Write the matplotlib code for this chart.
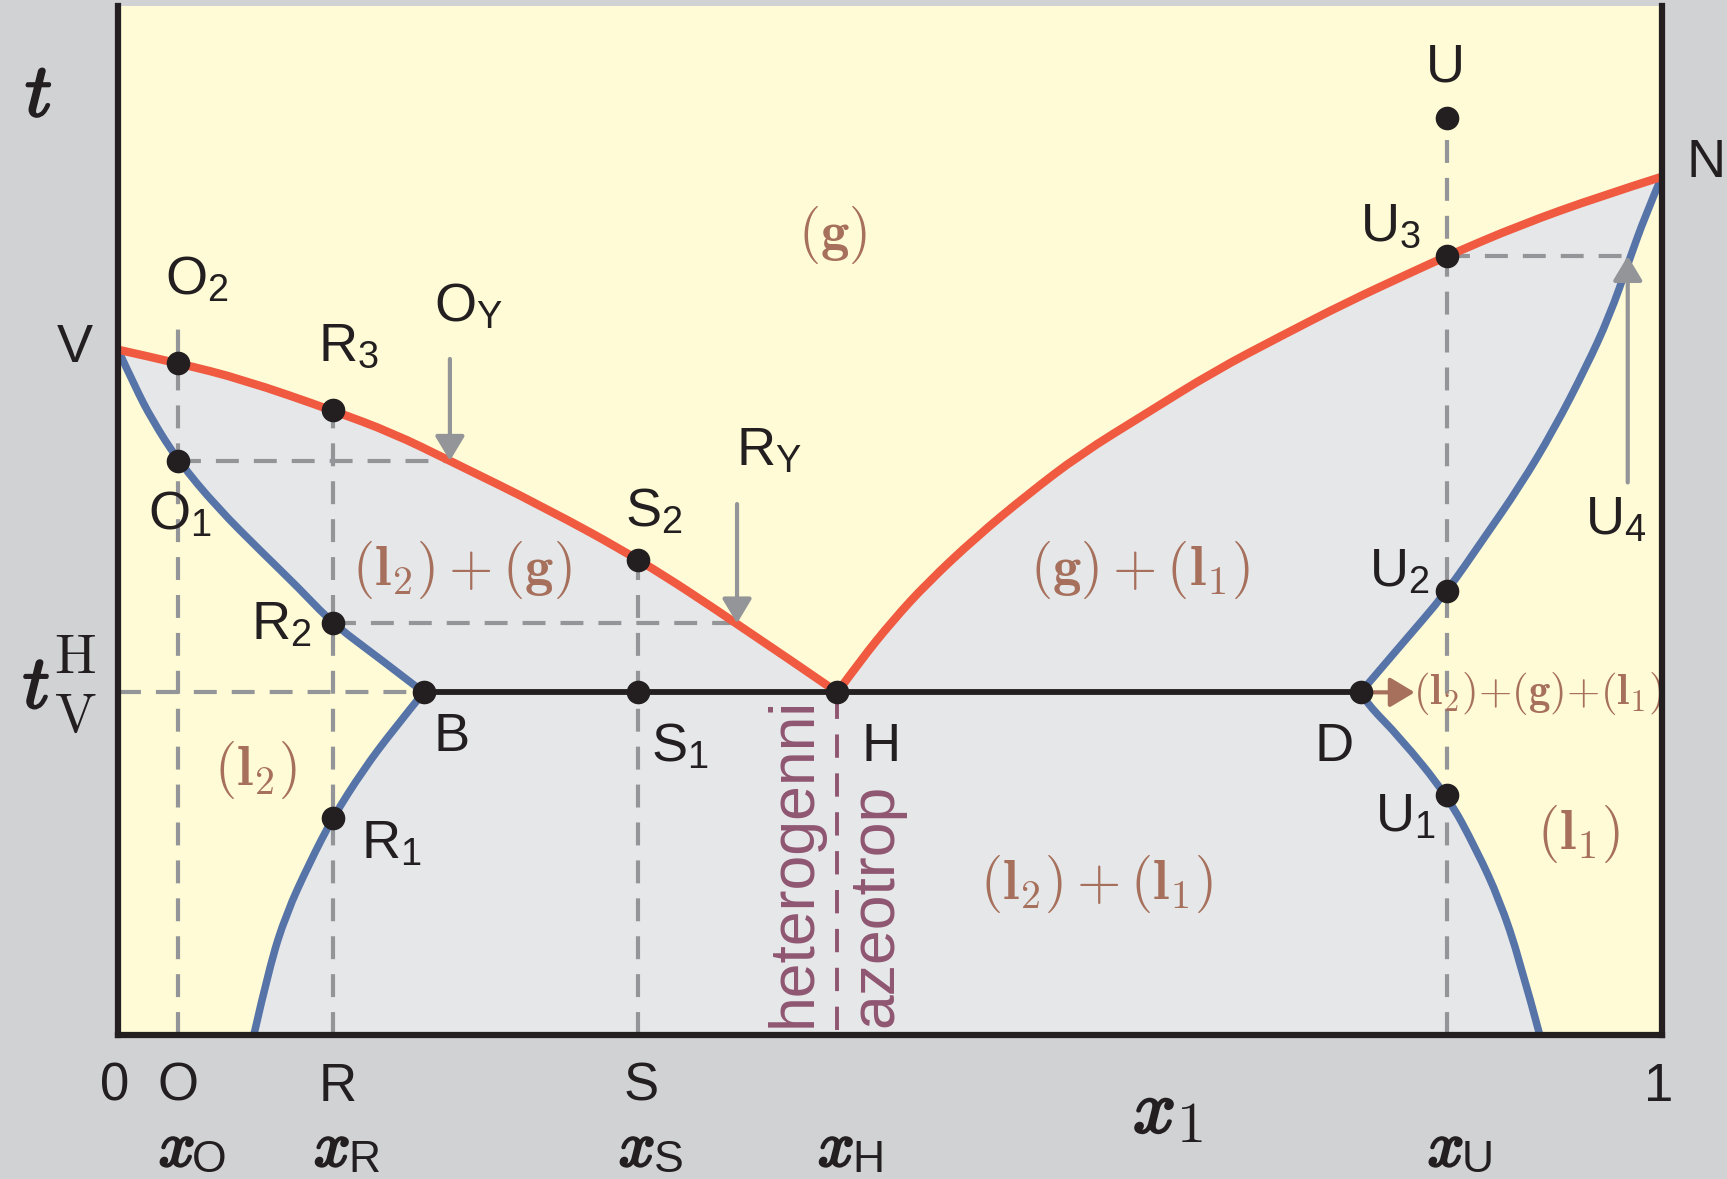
import matplotlib
matplotlib.use("Agg")
import matplotlib.pyplot as plt
import numpy as np
from matplotlib.path import Path
from matplotlib.patches import PathPatch
from matplotlib import patheffects

plt.rcParams['font.family'] = ['Liberation Sans', 'DejaVu Sans']
plt.rcParams['mathtext.fontset'] = 'custom'
plt.rcParams['mathtext.rm'] = 'Liberation Sans'
plt.rcParams['mathtext.it'] = 'Liberation Serif:italic:bold'

# ---- phase boundaries (x1 mole fraction, scaled temperature 0..1) ----
t_V, t_N, t_H = 0.666, 0.834, 0.333
x_B, x_H, x_D = 0.198, 0.466, 0.805

# dew curve, l2 side: V -> H
dew2_x = [0.0, 0.039, 0.081, 0.139, 0.178, 0.215, 0.276, 0.338, 0.401, 0.466]
dew2_t = [0.666, 0.653, 0.637, 0.607, 0.585, 0.558, 0.513, 0.462, 0.400, 0.333]
# dew curve, l1 side: H -> N
dew1_x = [0.466, 0.481, 0.502, 0.524, 0.556, 0.589, 0.623, 0.666, 0.710, 0.753,
          0.796, 0.839, 0.861, 0.908, 0.960, 1.0]
dew1_t = [0.333, 0.364, 0.403, 0.439, 0.484, 0.525, 0.564, 0.604, 0.645, 0.679,
          0.712, 0.742, 0.757, 0.787, 0.815, 0.834]
# bubble curve l2: V -> B
bub2_x = [0.0, 0.011, 0.022, 0.039, 0.064, 0.094, 0.116, 0.139, 0.165, 0.198]
bub2_t = [0.666, 0.630, 0.598, 0.558, 0.513, 0.468, 0.436, 0.400, 0.371, 0.333]
# solubility curve l2: B -> bottom
sol2_x = [0.198, 0.178, 0.159, 0.139, 0.124, 0.109, 0.098, 0.088]
sol2_t = [0.333, 0.296, 0.258, 0.211, 0.167, 0.118, 0.066, 0.0]
# bubble curve l1: D -> N
bub1_x = [0.805, 0.830, 0.861, 0.884, 0.908, 0.930, 0.951, 0.966, 0.979, 0.989, 1.0]
bub1_t = [0.333, 0.377, 0.431, 0.481, 0.533, 0.588, 0.649, 0.698, 0.753, 0.795, 0.834]
# solubility curve l1: D -> bottom
sol1_x = [0.805, 0.809, 0.830, 0.861, 0.880, 0.895, 0.908, 0.921]
sol1_t = [0.333, 0.322, 0.290, 0.233, 0.180, 0.131, 0.073, 0.0]

# compositions of the worked examples
x_O, x_R, x_S, x_U = 0.039, 0.1395, 0.337, 0.861
x_OY, x_RY, x_U4 = 0.215, 0.401, 0.978
t_O2, t_O1 = 0.653, 0.558
t_R3, t_R2, t_R1 = 0.607, 0.400, 0.211
t_S2 = 0.462
t_U, t_U3, t_U2, t_U1 = 0.891, 0.757, 0.431, 0.233

dots_x = [x_O, x_O, x_R, x_R, x_R, x_S, x_S, x_B, x_H, x_D, x_U, x_U, x_U, x_U]
dots_t = [t_O2, t_O1, t_R3, t_R2, t_R1, t_S2, t_H, t_H, t_H, t_H, t_U, t_U3, t_U2, t_U1]

point_labels = [
    ('U', 0.860, 0.940), ('N', 1.029, 0.847), ('U$_3$', 0.824, 0.786),
    ('O$_2$', 0.051, 0.733), ('V', -0.028, 0.668), ('R$_3$', 0.149, 0.669),
    ('O$_\\mathrm{Y}$', 0.227, 0.707), ('R$_\\mathrm{Y}$', 0.422, 0.567),
    ('S$_2$', 0.347, 0.508), ('O$_1$', 0.040, 0.505), ('U$_2$', 0.830, 0.449),
    ('U$_4$', 0.970, 0.500), ('R$_2$', 0.106, 0.398), ('B', 0.216, 0.290),
    ('S$_1$', 0.364, 0.279), ('H', 0.494, 0.280), ('D', 0.788, 0.280),
    ('R$_1$', 0.177, 0.185), ('U$_1$', 0.834, 0.211),
]
region_labels = [
    (r'$\mathbf{(g)}$', 0.463, 0.777),
    (r'$\mathbf{(l_2) + (g)}$', 0.223, 0.452),
    (r'$\mathbf{(g) + (l_1)}$', 0.662, 0.452),
    (r'$\mathbf{(l_2)}$', 0.089, 0.258),
    (r'$\mathbf{(l_1)}$', 0.946, 0.195),
    (r'$\mathbf{(l_2) + (l_1)}$', 0.634, 0.147),
]
tick_labels = [('0', -0.002), ('O', x_O), ('R', x_R + 0.003), ('S', x_S + 0.002), ('1', 0.998)]
comp_labels = [('O', x_O), ('R', x_R), ('S', x_S), ('H', x_H), ('U', x_U)]

RED = '#f05a40'
BLUE = '#5674a8'
GRAY = '#939598'
BROWN = '#a6705c'
PURPLE = '#8f5672'
INK = '#231f20'


def smooth(xs, ts):
    # quadratic B-spline through the sampled boundary points
    verts = [(xs[0], ts[0])]
    codes = [Path.MOVETO]
    n = len(xs)
    for i in range(1, n - 1):
        if i < n - 2:
            end = ((xs[i] + xs[i + 1]) / 2, (ts[i] + ts[i + 1]) / 2)
        else:
            end = (xs[-1], ts[-1])
        verts += [(xs[i], ts[i]), end]
        codes += [Path.CURVE3, Path.CURVE3]
    return Path(verts, codes)


def outline(xs, ts):
    return smooth(xs, ts).to_polygons(closed_only=False)[0]


fig = plt.figure(figsize=(17.27, 11.79), dpi=100)
fig.patch.set_facecolor('#d1d2d4')
ax = fig.add_axes([0.06833, 0.12214, 0.89386, 0.87277])
ax.set_facecolor('#fffbd6')
ax.set_xlim(0, 1)
ax.set_ylim(0, 1)
ax.set_xticks([])
ax.set_yticks([])
ax.spines['top'].set_visible(False)
for s in ['left', 'right', 'bottom']:
    ax.spines[s].set_linewidth(4.5)
    ax.spines[s].set_color(INK)
    ax.spines[s].set_capstyle('projecting')
    ax.spines[s].set_zorder(8)

# two-phase area (one closed outline)
pieces = [outline(dew2_x, dew2_t), outline(dew1_x, dew1_t),
          outline(bub1_x[::-1], bub1_t[::-1]), outline(sol1_x, sol1_t),
          outline(sol2_x[::-1], sol2_t[::-1]), outline(bub2_x[::-1], bub2_t[::-1])]
area = np.vstack(pieces)
ax.fill(area[:, 0], area[:, 1], color='#e6e7e9', lw=0, zorder=1)

dash = dict(color=GRAY, lw=3.0, dashes=(5.5, 3.6), zorder=2)
ax.plot([x_O, x_O], [0, 0.693], **dash)
ax.plot([x_R, x_R], [0, t_R3], **dash)
ax.plot([x_S, x_S], [0, t_S2], **dash)
ax.plot([x_U, x_U], [0, t_U], **dash)
ax.plot([x_O, x_OY], [t_O1, t_O1], **dash)
ax.plot([x_R, x_RY], [t_R2, t_R2], **dash)
ax.plot([x_U, x_U4], [t_U3, t_U3], **dash)
ax.plot([0, x_B], [t_H, t_H], **dash)
ax.plot([x_H, x_H], [0.005, t_H], color=PURPLE, lw=2.8, dashes=(6, 4), zorder=2)

# phase boundaries
for bx, bt in [(dew2_x, dew2_t), (dew1_x, dew1_t)]:
    ax.add_patch(PathPatch(smooth(bx, bt), fill=False, edgecolor=RED, lw=6.0,
                           capstyle='round', zorder=4))
for bx, bt in [(bub2_x, bub2_t), (sol2_x, sol2_t), (bub1_x, bub1_t), (sol1_x, sol1_t)]:
    ax.add_patch(PathPatch(smooth(bx, bt), fill=False, edgecolor=BLUE, lw=5.4,
                           capstyle='butt', zorder=3))
ax.plot([x_B, x_D], [t_H, t_H], color=INK, lw=4.2, zorder=4)

# arrows to the vapour compositions
arrow_kw = dict(arrowstyle='-|>,head_length=0.75,head_width=0.45', color=GRAY,
                lw=3.0, shrinkA=0, shrinkB=0, mutation_scale=20)
ax.annotate('', xy=(x_OY, t_O1), xytext=(x_OY, 0.657), arrowprops=arrow_kw, zorder=5)
ax.annotate('', xy=(x_RY, t_R2), xytext=(x_RY, 0.516), arrowprops=arrow_kw, zorder=5)
ax.annotate('', xy=(x_U4, t_U3), xytext=(x_U4, 0.537), arrowprops=arrow_kw, zorder=5)
ax.annotate('', xy=(0.840, t_H), xytext=(x_D, t_H),
            arrowprops=dict(arrow_kw, color=BROWN), zorder=5)

ax.plot(dots_x, dots_t, 'o', color=INK, ms=16, zorder=6, clip_on=False)

for txt, x, t in point_labels:
    ax.text(x, t, txt, fontsize=39, color=INK, ha='center', va='center', zorder=7)
for txt, x, t in region_labels:
    ax.text(x, t, txt, fontsize=41, color=BROWN, ha='center', va='center',
            math_fontfamily='cm', zorder=7)
ax.text(0.920, 0.332, r'$\mathbf{(l_2){+}(g){+}(l_1)}$', fontsize=31, color=BROWN,
        ha='center', va='center', math_fontfamily='cm', zorder=7)

ax.text(0.438, 0.008, 'heterogenni', rotation=90, fontsize=45, color=PURPLE,
        ha='center', va='bottom', zorder=7)
ax.text(0.491, 0.008, 'azeotrop', rotation=90, fontsize=45, color=PURPLE,
        ha='center', va='bottom', zorder=7)

# axis annotations (bold math italic drawn as stroked cm glyphs)
bold_fx = [patheffects.withStroke(linewidth=1.8, foreground=INK)]
mit = dict(math_fontfamily='cm', color=INK, ha='center', va='center', path_effects=bold_fx)
ax.text(-0.0515, 0.912, '$t$', fontsize=54, **mit)
ax.text(-0.053, 0.337, '$t$', fontsize=54, **mit)
ax.text(-0.028, 0.365, r'$\mathrm{H}$', fontsize=40, math_fontfamily='cm', color=INK,
        ha='center', va='center')
ax.text(-0.028, 0.308, r'$\mathrm{V}$', fontsize=40, math_fontfamily='cm', color=INK,
        ha='center', va='center')

for txt, x in tick_labels:
    ax.text(x, -0.0505, txt, fontsize=38, color=INK, ha='center', va='center')
for sub, x in comp_labels:
    ax.text(x - 0.001, -0.111, '$x$', fontsize=46, **mit)
    ax.text(x + 0.020, -0.1215, sub, fontsize=32, color=INK, ha='center', va='center')
ax.text(0.671, -0.076, '$x$', fontsize=54, **mit)
ax.text(0.694, -0.089, r'$\mathrm{1}$', fontsize=42, math_fontfamily='cm', color=INK,
        ha='center', va='center')

fig.savefig('out.png', dpi=100, facecolor=fig.get_facecolor())
